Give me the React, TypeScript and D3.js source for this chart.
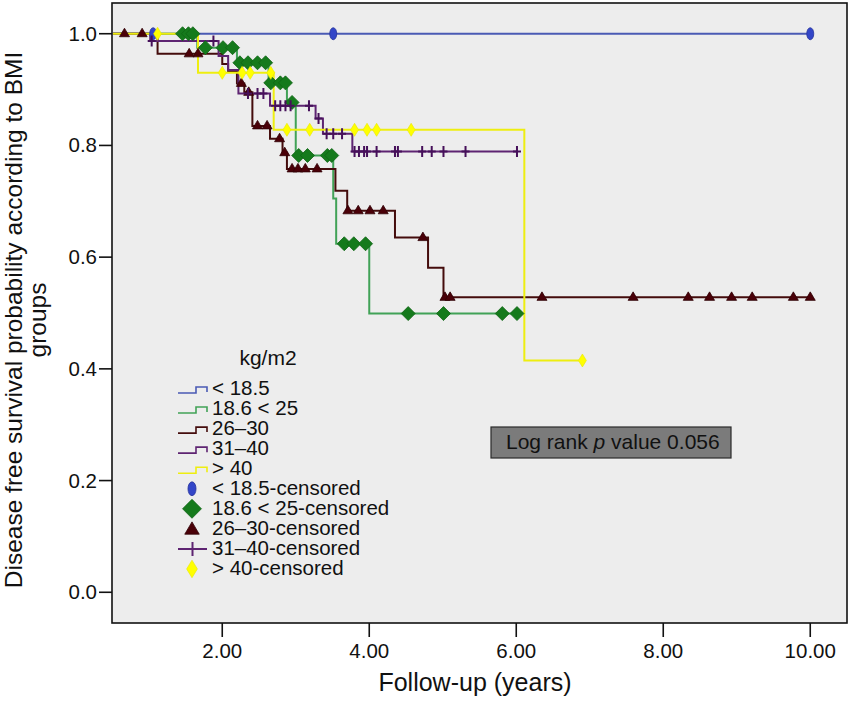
import React from 'react';
import * as d3 from 'd3';

const W = 850;
const H = 703;

// axis settings
const xDomain: [number, number] = [0.5, 10.5];
const yDomain: [number, number] = [-0.055, 1.055];
const xTicks = [2, 4, 6, 8, 10];
const yTicks = [0, 0.2, 0.4, 0.6, 0.8, 1.0];

// legend labels
const groupNames = ['< 18.5', '18.6 < 25', '26–30', '31–40', '> 40'];
const censorNames = ['< 18.5-censored', '18.6 < 25-censored', '26–30-censored', '31–40-censored', '> 40-censored'];

// < 18.5
const blueEventT: number[] = [];
const blueEventS: number[] = [];
const blueCensorT = [1.06, 3.51, 10.0];

// 18.6 < 25
const greenEventT = [1.66, 2.2, 2.63, 2.88, 3.0, 3.51, 3.55, 4.0];
const greenEventS = [0.975, 0.948, 0.912, 0.877, 0.782, 0.705, 0.624, 0.499];
const greenCensorT = [1.46, 1.54, 1.6, 1.77, 2.01, 2.14, 2.24, 2.35, 2.48, 2.59, 2.66, 2.79, 2.86, 2.95, 3.04, 3.16, 3.43, 3.49, 3.66, 3.79, 3.95, 4.53, 5.01, 5.81, 6.01];

// 26–30
const redEventT = [1.12, 2.0, 2.08, 2.2, 2.3, 2.41, 2.65, 2.82, 2.88, 3.54, 3.7, 4.35, 4.8, 5.01];
const redEventS = [0.964, 0.946, 0.932, 0.911, 0.895, 0.835, 0.812, 0.787, 0.758, 0.719, 0.683, 0.635, 0.581, 0.528];
const redCensorT = [0.67, 0.91, 1.55, 1.67, 2.26, 2.36, 2.48, 2.61, 2.78, 2.85, 2.95, 3.03, 3.13, 3.29, 3.71, 3.85, 4.01, 4.19, 4.73, 5.03, 5.1, 6.35, 7.59, 8.34, 8.63, 8.93, 9.21, 9.77, 10.0];

// 31–40
const purpleEventT = [1.02, 1.95, 2.08, 2.22, 2.65, 3.27, 3.37, 3.77];
const purpleEventS = [0.987, 0.96, 0.935, 0.893, 0.871, 0.848, 0.821, 0.789];
const purpleCensorT = [1.04, 1.88, 2.35, 2.48, 2.56, 2.72, 2.79, 2.86, 2.93, 3.18, 3.31, 3.42, 3.51, 3.63, 3.8, 3.86, 3.93, 3.97, 4.1, 4.35, 4.39, 4.72, 4.85, 5.01, 5.31, 6.01];

// > 40
const yellowEventT = [1.67, 2.7, 6.11];
const yellowEventS = [0.93, 0.828, 0.415];
const yellowCensorT = [1.12, 2.0, 2.27, 2.38, 2.66, 2.88, 3.19, 3.8, 3.97, 4.1, 4.57, 6.9];

type Marker = 'ellipse' | 'diamond' | 'triangle' | 'plus' | 'ydiamond';

const groups = [
  { evT: blueEventT, evS: blueEventS, cT: blueCensorT, line: '#4a5ab4', mark: '#3346c8', mstroke: '#26329a', marker: 'ellipse' as Marker },
  { evT: greenEventT, evS: greenEventS, cT: greenCensorT, line: '#41a257', mark: '#157a1c', mstroke: '#0f6414', marker: 'diamond' as Marker },
  { evT: redEventT, evS: redEventS, cT: redCensorT, line: '#440c0c', mark: '#4a0008', mstroke: '#300005', marker: 'triangle' as Marker },
  { evT: purpleEventT, evS: purpleEventS, cT: purpleCensorT, line: '#5e2472', mark: '#46105a', mstroke: '#46105a', marker: 'plus' as Marker },
  { evT: yellowEventT, evS: yellowEventS, cT: yellowCensorT, line: '#eeee10', mark: '#ffff00', mstroke: '#e8e800', marker: 'ydiamond' as Marker },
];

const FONT = 'Liberation Sans, Arial, Helvetica, sans-serif';

function survAt(evT: number[], evS: number[], t: number): number {
  let s = 1;
  for (let i = 0; i < evT.length; i++) {
    if (evT[i] <= t) s = evS[i];
  }
  return s;
}

function MarkerShape({ kind, cx, cy, fill, stroke, scale = 1 }: { kind: Marker; cx: number; cy: number; fill: string; stroke: string; scale?: number }) {
  if (kind === 'ellipse') {
    return <ellipse cx={cx} cy={cy} rx={3.5 * scale} ry={6 * scale} fill={fill} stroke={stroke} strokeWidth={0.8} />;
  }
  if (kind === 'diamond') {
    const w = 7 * scale, h = 7 * scale;
    return <path d={`M${cx - w},${cy} L${cx},${cy - h} L${cx + w},${cy} L${cx},${cy + h} Z`} fill={fill} stroke={stroke} strokeWidth={0.8} />;
  }
  if (kind === 'triangle') {
    const w = 5 * scale, up = 5.5 * scale, dn = 3 * scale;
    return <path d={`M${cx - w},${cy + dn} L${cx},${cy - up} L${cx + w},${cy + dn} Z`} fill={fill} stroke={stroke} strokeWidth={0.8} />;
  }
  if (kind === 'plus') {
    const w = 4 * scale, h = 5.5 * scale;
    return <path d={`M${cx - w},${cy} H${cx + w} M${cx},${cy - h} V${cy + h}`} stroke={fill} strokeWidth={2} fill="none" />;
  }
  const w = 4 * scale, h = 6.5 * scale;
  return <path d={`M${cx - w},${cy} L${cx},${cy - h} L${cx + w},${cy} L${cx},${cy + h} Z`} fill={fill} stroke={stroke} strokeWidth={0.6} />;
}

export default function App() {
  const left = 112, right = 847, top = 3, bottom = 623;
  const x = d3.scaleLinear().domain(xDomain).range([left, right]);
  const y = d3.scaleLinear().domain(yDomain).range([bottom, top]);

  const line = d3.line<[number, number]>()
    .x(d => x(d[0]))
    .y(d => y(d[1]))
    .curve(d3.curveStepAfter);

  const paths = groups.map(g => {
    const end = Math.max(...g.cT, ...(g.evT.length ? g.evT : [0]));
    const pts: [number, number][] = [[0, 1]];
    g.evT.forEach((t, i) => pts.push([t, g.evS[i]]));
    const lastS = g.evS.length ? g.evS[g.evS.length - 1] : 1;
    pts.push([end, lastS]);
    return line(pts) || '';
  });

  const legendX = 178;
  const legendBase = 395;
  const rowH = 20.05;

  return (
    <svg width={W} height={H} style={{ position: 'absolute', left: 0, top: 0, background: '#ffffff' }} fontFamily={FONT}>
      <defs>
        <clipPath id="plotClip">
          <rect x={left + 1} y={top + 1} width={right - left - 2} height={bottom - top - 2} />
        </clipPath>
      </defs>
      <rect x={0} y={0} width={W} height={H} fill="#ffffff" />
      <rect x={left} y={top} width={right - left} height={bottom - top} fill="#ededed" />

      {/* curves */}
      <g clipPath="url(#plotClip)">
        {paths.map((p, i) => (
          <path key={'l' + i} d={p} fill="none" stroke={groups[i].line} strokeWidth={2} />
        ))}
        {groups.map((g, gi) => (
          <g key={'m' + gi}>
            {g.cT.map((t, k) => (
              <MarkerShape key={k} kind={g.marker} cx={x(t)} cy={y(survAt(g.evT, g.evS, t))} fill={g.mark} stroke={g.mstroke} />
            ))}
          </g>
        ))}
      </g>

      {/* frame */}
      <rect x={left} y={top} width={right - left} height={bottom - top} fill="none" stroke="#111" strokeWidth={1.6} />

      {/* y axis ticks */}
      {yTicks.map(v => (
        <g key={'yt' + v}>
          <line x1={left - 13} x2={left} y1={y(v)} y2={y(v)} stroke="#111" strokeWidth={1.6} />
          <text x={97} y={y(v) + 7} textAnchor="end" fontSize={20.5} fill="#111">{v.toFixed(1)}</text>
        </g>
      ))}

      {/* x axis ticks */}
      {xTicks.map(v => (
        <g key={'xt' + v}>
          <line x1={x(v)} x2={x(v)} y1={bottom} y2={bottom + 14} stroke="#111" strokeWidth={1.6} />
          <text x={x(v)} y={658} textAnchor="middle" fontSize={20.5} fill="#111">{v.toFixed(2)}</text>
        </g>
      ))}

      {/* axis titles */}
      <text x={475} y={691} textAnchor="middle" fontSize={25} fill="#111">Follow-up (years)</text>
      <g transform="translate(22,320) rotate(-90)">
        <text x={0} y={0} textAnchor="middle" fontSize={24.5} fill="#111">Disease free survival probability according to BMI</text>
        <text x={0} y={23.5} textAnchor="middle" fontSize={24.5} fill="#111">groups</text>
      </g>

      {/* legend */}
      <text x={268} y={365} textAnchor="middle" fontSize={21} fill="#111">kg/m2</text>
      {groupNames.map((n, i) => {
        const b = legendBase + i * rowH;
        const lo = b - 2, hi = b - 8;
        return (
          <g key={'lg' + i}>
            <path d={`M${legendX},${lo} H${legendX + 18} V${hi} H${legendX + 29} V${lo - 1}`} fill="none" stroke={groups[i].line} strokeWidth={1.6} />
            <text x={212} y={b} fontSize={20.5} fill="#111">{n}</text>
          </g>
        );
      })}
      {censorNames.map((n, i) => {
        const b = legendBase + (i + 5) * rowH;
        const g = groups[i];
        const cy = b - 6.5;
        return (
          <g key={'lc' + i}>
            {g.marker === 'plus' ? (
              <path d={`M${legendX},${cy} H${legendX + 29} M${legendX + 14.5},${cy - 7} V${cy + 7}`} stroke={g.line} strokeWidth={2} fill="none" />
            ) : g.marker === 'diamond' ? (
              <MarkerShape kind="diamond" cx={legendX + 14} cy={cy} fill={g.mark} stroke={g.mstroke} scale={1.35} />
            ) : g.marker === 'triangle' ? (
              <MarkerShape kind="triangle" cx={legendX + 14} cy={cy + 1} fill={g.mark} stroke={g.mstroke} scale={1.45} />
            ) : g.marker === 'ellipse' ? (
              <MarkerShape kind="ellipse" cx={legendX + 14} cy={cy} fill={g.mark} stroke={g.mstroke} scale={1.15} />
            ) : (
              <MarkerShape kind="ydiamond" cx={legendX + 14} cy={cy} fill={g.mark} stroke={g.mstroke} scale={1.35} />
            )}
            <text x={212} y={b} fontSize={20.5} fill="#111">{n}</text>
          </g>
        );
      })}

      {/* log rank box */}
      <rect x={491} y={427} width={240} height={31} fill="#7b7b7b" stroke="#2a2a2a" strokeWidth={1.2} />
      <text x={506} y={449} fontSize={21} fill="#111">
        Log rank <tspan fontStyle="italic">p</tspan> value 0.056
      </text>
    </svg>
  );
}
